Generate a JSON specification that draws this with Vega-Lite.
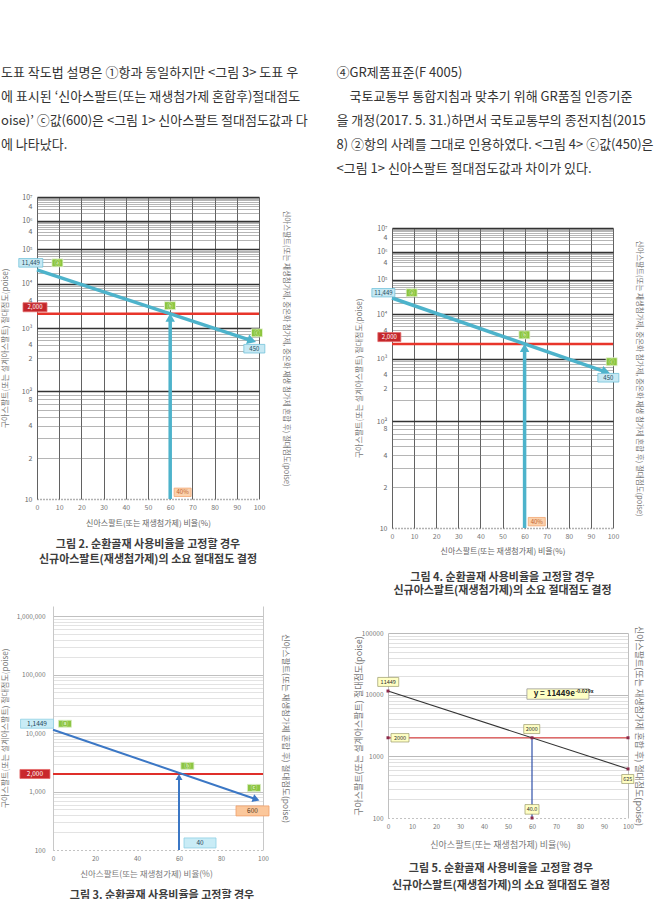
{
  "$schema": "https://vega.github.io/schema/vega-lite/v6.json",
  "padding": {"left": 0, "top": 66, "right": 0, "bottom": 0},
  "background": "white",
  "config": {
    "font": "Noto Sans CJK KR",
    "view": {"stroke": null},
    "axis": {"labelFont": "Noto Sans CJK KR", "titleFont": "Noto Sans CJK KR", "titleFontWeight": "normal"},
    "title": {"font": "Noto Sans CJK KR"},
    "text": {"font": "Noto Sans CJK KR"},
    "point": {"opacity": 1}
  },
  "datasets": {
    "lab2": [
      {"x": -2.8, "lv": 4.58, "t": "11,449", "role": "old"},
      {"x": 9.2, "lv": 4.58, "t": "ⓐ", "role": "step"},
      {"x": 59.9, "lv": 3.475, "t": "ⓑ", "role": "step"},
      {"x": 99.1, "lv": 2.917, "t": "ⓒ", "role": "step"},
      {"x": -0.9, "lv": 3.44, "t": "2,000", "role": "target"},
      {"x": 97.9, "lv": 2.634, "t": "450", "role": "new"},
      {"x": 65.6, "lv": 1.044, "t": "40%", "role": "ratio"}
    ],
    "lab4": [
      {"x": -3.9, "lv": 4.6, "t": "11,449", "role": "old"},
      {"x": 8.9, "lv": 4.6, "t": "ⓐ", "role": "step"},
      {"x": 59.9, "lv": 3.5, "t": "ⓑ", "role": "step"},
      {"x": 99.4, "lv": 2.94, "t": "ⓒ", "role": "step"},
      {"x": -1.2, "lv": 3.45, "t": "2,000", "role": "target"},
      {"x": 97.9, "lv": 2.65, "t": "450", "role": "new"},
      {"x": 65.5, "lv": 1.042, "t": "40%", "role": "ratio"}
    ],
    "lab3": [
      {"x": -7.6, "v": 14500, "t": "1,1449", "role": "old"},
      {"x": 5.7, "v": 14500, "t": "ⓐ", "role": "step"},
      {"x": 64, "v": 2760, "t": "ⓑ", "role": "step"},
      {"x": 95.7, "v": 1157, "t": "ⓒ", "role": "step"},
      {"x": -8.6, "v": 2000, "t": "2,000", "role": "target"},
      {"x": 95, "v": 467, "t": "600", "role": "new"},
      {"x": 70, "v": 132, "t": "40", "role": "ratio"}
    ],
    "lab5": [
      {"x": 0.1, "v": 16100, "t": "11449", "role": "old"},
      {"x": 5, "v": 2000, "t": "2000", "role": "target"},
      {"x": 59.9, "v": 2770, "t": "2000", "role": "cross"},
      {"x": 99.9, "v": 429, "t": "625", "role": "new"},
      {"x": 60, "v": 138, "t": "40.0", "role": "ratio"}
    ]
  },
  "spacing": 28,
  "resolve": {"scale": {"fill": "independent", "stroke": "independent", "shape": "independent", "color": "independent"}},
  "hconcat": [
    {
      "title": {
        "text": ["도표 작도법 설명은 ①항과 동일하지만 <그림 3> 도표 우", "에 표시된 ‘신아스팔트(또는 재생첨가제 혼합후)절대점도", "oise)’ ⓒ값(600)은 <그림 1> 신아스팔트 절대점도값과 다", "에 나타났다."],
        "anchor": "start", "frame": "bounds", "fontSize": 13, "fontWeight": "normal", "color": "#333333", "lineHeight": 24, "offset": 41
      },
      "spacing": 41,
      "resolve": {"scale": {"fill": "independent", "stroke": "independent", "shape": "independent", "color": "independent"}},
      "vconcat": [
        {
          "width": 222, "height": 302,
          "title": {"text": ["그림 2. 순환골재 사용비율을 고정할 경우", "신규아스팔트(재생첨가제)의 소요 절대점도 결정"], "orient": "bottom", "anchor": "middle", "fontSize": 11, "fontWeight": "bold", "color": "#3c3c3c", "lineHeight": 15, "offset": 12},
          "resolve": {"axis": {"y": "independent"}},
          "encoding": {
            "x": {"field": "x", "type": "quantitative", "scale": {"domain": [0, 100], "nice": false},
              "axis": {"values": [0, 10, 20, 30, 40, 50, 60, 70, 80, 90, 100], "grid": true, "gridColor": "#3a3a3a", "gridWidth": 0.8, "ticks": false, "domain": true, "domainColor": "#666666", "domainDash": [1, 2], "domainWidth": 1.5, "labelFontSize": 7, "labelColor": "#777777", "labelPadding": 4, "labelFlush": false, "labelOverlap": false, "title": "신아스팔트(또는 재생첨가제) 비율(%)", "titleFontSize": 8, "titleColor": "#666666", "titlePadding": 9}}
          },
          "layer": [
            {
              "data": {"values": [{"x": 0, "lv": 3.30103}, {"x": 100, "lv": 3.30103}]},
              "mark": {"type": "line", "color": "#e8352b", "strokeWidth": 2.5},
              "encoding": {
                "y": {"field": "lv", "type": "quantitative", "scale": {"type": "log", "domain": [1, 7], "nice": false},
                  "axis": {
                    "values": [1, 1.30103, 1.47712, 1.60206, 1.69897, 1.77815, 1.8451, 1.90309, 1.95424, 2, 2.30103, 2.47712, 2.60206, 2.69897, 2.77815, 2.8451, 2.90309, 2.95424, 3, 3.30103, 3.47712, 3.60206, 3.69897, 3.77815, 3.8451, 3.90309, 3.95424, 4, 4.30103, 4.47712, 4.60206, 4.69897, 4.77815, 4.8451, 4.90309, 4.95424, 5, 5.30103, 5.47712, 5.60206, 5.69897, 5.77815, 5.8451, 5.90309, 5.95424, 6, 6.30103, 6.47712, 6.60206, 6.69897, 6.77815, 6.8451, 6.90309, 6.95424, 7],
                    "labelExpr": "datum.value == 7 ? '10⁷' : datum.value == 6 ? '10⁶' : datum.value == 5 ? '10⁵' : datum.value == 4 ? '10⁴' : datum.value == 3 ? '10³' : datum.value == 2 ? '10²' : datum.value == 1 ? '10' : (datum.value == 6.60206 || datum.value == 5.60206 || datum.value == 4.60206 || datum.value == 3.60206 || datum.value == 2.69897 || datum.value == 1.60206) ? '4' : (datum.value == 2.47712 || datum.value == 1.30103) ? '2' : datum.value == 1.90309 ? '8' : ''",
                    "grid": true,
                    "gridColor": {"condition": {"test": "datum.value % 1 == 0", "value": "#333333"}, "value": "#777777"},
                    "gridWidth": {"condition": {"test": "datum.value % 1 == 0", "value": 1.6}, "value": 0.55},
                    "gridOpacity": {"condition": {"test": "datum.value == 1", "value": 0}, "value": 1},
                    "ticks": false, "domain": false, "labelFontSize": 7, "labelColor": "#666666", "labelPadding": 5, "labelOverlap": false,
                    "title": "구아스팔트(또는 설계아스팔트) 절대점도(poise)", "titleFontSize": 8, "titleColor": "#777777", "titleX": -28}}
              }
            },
            {
              "data": {"values": [{"x": 0, "lv": 4.375}, {"x": 96, "lv": 2.785}]},
              "mark": {"type": "line", "color": "#4db3cb", "strokeWidth": 3.5},
              "encoding": {
                "y": {"field": "lv", "type": "quantitative", "axis": {"orient": "right", "title": "신아스팔트(또는 재생첨가제, 중온화 첨가제, 중온화 재생 첨가제 혼합 후) 절대점도(poise)", "labels": false, "ticks": false, "domain": false, "grid": false, "titleFontSize": 7.5, "titleColor": "#777777", "titleX": 22}}
              }
            },
            {
              "data": {"values": [{"x": 60, "lv": 1, "lv2": 3.21}]},
              "mark": {"type": "rule", "color": "#4db3cb", "strokeWidth": 3.5},
              "encoding": {
                "y": {"field": "lv", "type": "quantitative", "axis": null},
                "y2": {"field": "lv2"}
              }
            },
            {
              "data": {"values": [{"x": 60, "lv": 3.207}]},
              "mark": {"type": "point", "shape": "M0,-1L1,0.75L-1,0.75Z", "size": 90, "filled": true, "opacity": 1, "color": "#4db3cb"},
              "encoding": {"y": {"field": "lv", "type": "quantitative", "axis": null}}
            },
            {
              "data": {"values": [{"x": 96.5, "lv": 2.778}]},
              "mark": {"type": "point", "shape": "M0,-1L1,0.75L-1,0.75Z", "size": 100, "filled": true, "opacity": 1, "color": "#4db3cb", "angle": 108},
              "encoding": {"y": {"field": "lv", "type": "quantitative", "axis": null}}
            },
            {
              "data": {"name": "lab2"},
              "mark": {"type": "point", "filled": true, "size": 400, "opacity": 1, "strokeWidth": 0.8},
              "encoding": {
                "y": {"field": "lv", "type": "quantitative", "axis": null},
                "shape": {"field": "role", "type": "nominal", "legend": null, "scale": {"domain": ["old", "step", "target", "new", "ratio"], "range": ["M-1.2,-0.43H1.2V0.43H-1.2Z", "M-0.55,-0.4H0.55V0.4H-0.55Z", "M-1.2,-0.45H1.2V0.45H-1.2Z", "M-1.05,-0.43H1.05V0.43H-1.05Z", "M-0.85,-0.42H0.85V0.42H-0.85Z"]}},
                "fill": {"field": "role", "type": "nominal", "legend": null, "scale": {"domain": ["old", "step", "target", "new", "ratio"], "range": ["#c6e8f3", "#8cc63f", "#c4262b", "#c6e8f3", "#fbd2ad"]}},
                "stroke": {"field": "role", "type": "nominal", "legend": null, "scale": {"domain": ["old", "step", "target", "new", "ratio"], "range": ["#74c3da", "#e8f4d8", "#e26a6a", "#74c3da", "#f3a772"]}}
              }
            },
            {
              "data": {"name": "lab2"},
              "mark": {"type": "text", "fontSize": 6, "baseline": "middle"},
              "encoding": {
                "y": {"field": "lv", "type": "quantitative", "axis": null},
                "text": {"field": "t"},
                "color": {"field": "role", "type": "nominal", "legend": null, "scale": {"domain": ["old", "step", "target", "new", "ratio"], "range": ["#1f4a5c", "#eef8e0", "#ffffff", "#1f4a5c", "#c0602c"]}}
              }
            }
          ]
        },
        {
          "width": 226, "height": 244,
          "title": {"text": "그림 3. 순환골재 사용비율을 고정할 경우", "orient": "bottom", "anchor": "middle", "fontSize": 11, "fontWeight": "bold", "color": "#3c3c3c", "offset": 12, "dx": 12},
          "resolve": {"axis": {"y": "independent"}},
          "encoding": {
            "x": {"field": "x", "type": "quantitative", "scale": {"domain": [0, 100], "range": [16, 226], "nice": false},
              "axis": {"values": [0, 20, 40, 60, 80, 100], "grid": false, "ticks": false, "domain": true, "domainColor": "#888888", "domainDash": [1, 3], "domainWidth": 1.2, "labelFontSize": 6.5, "labelColor": "#777777", "labelPadding": 5, "labelFlush": false, "labelOverlap": false, "title": "신아스팔트(또는 재생첨가제) 비율(%)", "titleFontSize": 8.5, "titleColor": "#777777", "titlePadding": 7.5, "titleX": 109}}
          },
          "layer": [
            {
              "data": {"values": [{"x": 0, "v": 2000}, {"x": 100, "v": 2000}]},
              "mark": {"type": "line", "color": "#df2f2a", "strokeWidth": 2},
              "encoding": {
                "y": {"field": "v", "type": "quantitative", "scale": {"type": "log", "domain": [100, 1500000], "nice": false},
                  "axis": {
                    "values": [100, 200, 300, 400, 500, 600, 700, 800, 900, 1000, 2000, 3000, 4000, 5000, 6000, 7000, 8000, 9000, 10000, 20000, 30000, 40000, 50000, 60000, 70000, 80000, 90000, 100000, 200000, 300000, 400000, 500000, 600000, 700000, 800000, 900000, 1000000],
                    "labelExpr": "indexof([100,1000,10000,100000,1000000], datum.value) >= 0 ? format(datum.value, ',') : ''",
                    "grid": true,
                    "gridColor": {"condition": {"test": "indexof([100,1000,10000,100000,1000000], datum.value) >= 0", "value": "#b0b0b0"}, "value": "#dcdcdc"},
                    "gridWidth": 0.8,
                    "gridOpacity": {"condition": {"test": "datum.value == 100", "value": 0}, "value": 1},
                    "offset": -16,
                    "ticks": false, "domain": true, "domainColor": "#c8c8c8", "labelFontSize": 6.5, "labelColor": "#777777", "labelPadding": 8, "labelOverlap": false,
                    "title": "구아스팔트(또는 설계아스팔트) 절대점도(poise)", "titleFontSize": 8, "titleColor": "#777777", "titleX": -44}}
              }
            },
            {
              "data": {"values": [{"x": 0, "v": 11449}, {"x": 96, "v": 754}]},
              "mark": {"type": "line", "color": "#3b77c5", "strokeWidth": 2},
              "encoding": {
                "y": {"field": "v", "type": "quantitative", "axis": {"orient": "right", "title": "신아스팔트(또는 재생첨가제 혼합 후) 절대점도(poise)", "labels": false, "ticks": false, "domain": true, "domainColor": "#c8c8c8", "grid": false, "titleFontSize": 8.5, "titleColor": "#777777", "titleX": 17.75}}
              }
            },
            {
              "data": {"values": [{"x": 60, "v": 100, "v2": 1760}]},
              "mark": {"type": "rule", "color": "#3b77c5", "strokeWidth": 2},
              "encoding": {
                "y": {"field": "v", "type": "quantitative", "axis": null},
                "y2": {"field": "v2"}
              }
            },
            {
              "data": {"values": [{"x": 60, "v": 1742}]},
              "mark": {"type": "point", "shape": "M0,-1L1,0.75L-1,0.75Z", "size": 49, "filled": true, "opacity": 1, "color": "#3b77c5"},
              "encoding": {"y": {"field": "v", "type": "quantitative", "axis": null}}
            },
            {
              "data": {"values": [{"x": 96.5, "v": 743}]},
              "mark": {"type": "point", "shape": "M0,-1L1,0.75L-1,0.75Z", "size": 64, "filled": true, "opacity": 1, "color": "#3b77c5", "angle": 109},
              "encoding": {"y": {"field": "v", "type": "quantitative", "axis": null}}
            },
            {
              "data": {"name": "lab3"},
              "mark": {"type": "point", "filled": true, "size": 400, "opacity": 1, "strokeWidth": 0.8},
              "encoding": {
                "y": {"field": "v", "type": "quantitative", "axis": null},
                "shape": {"field": "role", "type": "nominal", "legend": null, "scale": {"domain": ["old", "step", "target", "new", "ratio"], "range": ["M-1.65,-0.45H1.65V0.45H-1.65Z", "M-0.65,-0.35H0.65V0.35H-0.65Z", "M-1.5,-0.45H1.5V0.45H-1.5Z", "M-1.65,-0.5H1.65V0.5H-1.65Z", "M-1.6,-0.5H1.6V0.5H-1.6Z"]}},
                "fill": {"field": "role", "type": "nominal", "legend": null, "scale": {"domain": ["old", "step", "target", "new", "ratio"], "range": ["#c9ecf6", "#8cc542", "#c9282c", "#fbc79b", "#c9ecf6"]}},
                "stroke": {"field": "role", "type": "nominal", "legend": null, "scale": {"domain": ["old", "step", "target", "new", "ratio"], "range": ["#8fd0e4", "#d9eec4", "#e46a6a", "#f0a06a", "#8fd0e4"]}}
              }
            },
            {
              "data": {"name": "lab3"},
              "mark": {"type": "text", "fontSize": 6.5, "baseline": "middle"},
              "encoding": {
                "y": {"field": "v", "type": "quantitative", "axis": null},
                "text": {"field": "t"},
                "color": {"field": "role", "type": "nominal", "legend": null, "scale": {"domain": ["old", "step", "target", "new", "ratio"], "range": ["#24465a", "#f2f9e8", "#ffffff", "#5a3a20", "#24465a"]}}
              }
            }
          ]
        }
      ]
    },
    {
      "title": {
        "text": ["④GR제품표준(F 4005)", "​　국토교통부 통합지침과 맞추기 위해 GR품질 인증기준", "을 개정(2017. 5. 31.)하면서 국토교통부의 종전지침(2015", "8) ②항의 사례를 그대로 인용하였다. <그림 4> ⓒ값(450)은", "<그림 1> 신아스팔트 절대점도값과 차이가 있다."],
        "anchor": "start", "frame": "bounds", "fontSize": 13, "fontWeight": "normal", "color": "#333333", "lineHeight": 24, "offset": 21.5, "dx": -18
      },
      "spacing": 0,
      "resolve": {"scale": {"fill": "independent", "stroke": "independent", "shape": "independent", "color": "independent"}},
      "vconcat": [
        {
          "width": 10, "height": 27,
          "data": {"values": [{"a": 1}]},
          "mark": {"type": "point", "opacity": 0},
          "encoding": {}
        },
        {
          "spacing": 29,
          "resolve": {"scale": {"fill": "independent", "stroke": "independent", "shape": "independent", "color": "independent"}},
          "vconcat": [
            {
              "width": 225, "height": 300,
              "title": {"text": ["그림 4. 순환골재 사용비율을 고정할 경우", "신규아스팔트(재생첨가제)의 소요 절대점도 결정"], "orient": "bottom", "anchor": "middle", "fontSize": 11, "fontWeight": "bold", "color": "#3c3c3c", "lineHeight": 13, "offset": 17, "dx": 2},
              "resolve": {"axis": {"y": "independent"}},
              "encoding": {
                "x": {"field": "x", "type": "quantitative", "scale": {"domain": [0, 100], "range": [4, 225], "nice": false},
                  "axis": {"values": [0, 10, 20, 30, 40, 50, 60, 70, 80, 90, 100], "grid": true, "gridColor": "#3a3a3a", "gridWidth": 0.8, "ticks": false, "domain": true, "domainColor": "#666666", "domainDash": [1, 2], "domainWidth": 1.5, "labelFontSize": 7, "labelColor": "#777777", "labelPadding": 4, "labelFlush": false, "labelOverlap": false, "title": "신아스팔트(또는 재생첨가제) 비율(%)", "titleFontSize": 8, "titleColor": "#666666", "titlePadding": 8, "titleX": 114.5}}
              },
              "layer": [
                {
                  "data": {"values": [{"x": 0, "lv": 3.30103}, {"x": 100, "lv": 3.30103}]},
                  "mark": {"type": "line", "color": "#e8352b", "strokeWidth": 2.5},
                  "encoding": {
                    "y": {"field": "lv", "type": "quantitative", "scale": {"type": "log", "domain": [1, 7], "nice": false},
                      "axis": {
                        "values": [1, 1.30103, 1.47712, 1.60206, 1.69897, 1.77815, 1.8451, 1.90309, 1.95424, 2, 2.30103, 2.47712, 2.60206, 2.69897, 2.77815, 2.8451, 2.90309, 2.95424, 3, 3.30103, 3.47712, 3.60206, 3.69897, 3.77815, 3.8451, 3.90309, 3.95424, 4, 4.30103, 4.47712, 4.60206, 4.69897, 4.77815, 4.8451, 4.90309, 4.95424, 5, 5.30103, 5.47712, 5.60206, 5.69897, 5.77815, 5.8451, 5.90309, 5.95424, 6, 6.30103, 6.47712, 6.60206, 6.69897, 6.77815, 6.8451, 6.90309, 6.95424, 7],
                        "labelExpr": "datum.value == 7 ? '10⁷' : datum.value == 6 ? '10⁶' : datum.value == 5 ? '10⁵' : datum.value == 4 ? '10⁴' : datum.value == 3 ? '10³' : datum.value == 2 ? '10²' : datum.value == 1 ? '10' : (datum.value == 6.60206 || datum.value == 5.60206 || datum.value == 4.60206 || datum.value == 3.60206 || datum.value == 2.69897 || datum.value == 1.60206) ? '4' : (datum.value == 2.47712 || datum.value == 1.30103) ? '2' : datum.value == 1.90309 ? '8' : ''",
                        "grid": true,
                        "gridColor": {"condition": {"test": "datum.value % 1 == 0", "value": "#333333"}, "value": "#777777"},
                        "gridWidth": {"condition": {"test": "datum.value % 1 == 0", "value": 1.6}, "value": 0.55},
                        "gridOpacity": {"condition": {"test": "datum.value == 1", "value": 0}, "value": 1},
                        "offset": -4,
                        "ticks": false, "domain": false, "labelFontSize": 7, "labelColor": "#666666", "labelPadding": 5, "labelOverlap": false,
                        "title": "구아스팔트(또는 설계아스팔트) 절대점도(poise)", "titleFontSize": 8, "titleColor": "#777777", "titleX": -29}}
                  }
                },
                {
                  "data": {"values": [{"x": 0, "lv": 4.446}, {"x": 96, "lv": 2.761}]},
                  "mark": {"type": "line", "color": "#4db3cb", "strokeWidth": 3.5},
                  "encoding": {
                    "y": {"field": "lv", "type": "quantitative", "axis": {"orient": "right", "title": "신아스팔트(또는 재생첨가제, 중온화 첨가제, 중온화 재생 첨가제 혼합 후) 절대점도(poise)", "labels": false, "ticks": false, "domain": false, "grid": false, "titleFontSize": 7.5, "titleColor": "#777777", "titleX": 21.25}}
                  }
                },
                {
                  "data": {"values": [{"x": 60, "lv": 1, "lv2": 3.21}]},
                  "mark": {"type": "rule", "color": "#4db3cb", "strokeWidth": 3.5},
                  "encoding": {
                    "y": {"field": "lv", "type": "quantitative", "axis": null},
                    "y2": {"field": "lv2"}
                  }
                },
                {
                  "data": {"values": [{"x": 60, "lv": 3.206}]},
                  "mark": {"type": "point", "shape": "M0,-1L1,0.75L-1,0.75Z", "size": 90, "filled": true, "opacity": 1, "color": "#4db3cb"},
                  "encoding": {"y": {"field": "lv", "type": "quantitative", "axis": null}}
                },
                {
                  "data": {"values": [{"x": 96.5, "lv": 2.754}]},
                  "mark": {"type": "point", "shape": "M0,-1L1,0.75L-1,0.75Z", "size": 100, "filled": true, "opacity": 1, "color": "#4db3cb", "angle": 108},
                  "encoding": {"y": {"field": "lv", "type": "quantitative", "axis": null}}
                },
                {
                  "data": {"name": "lab4"},
                  "mark": {"type": "point", "filled": true, "size": 400, "opacity": 1, "strokeWidth": 0.8},
                  "encoding": {
                    "y": {"field": "lv", "type": "quantitative", "axis": null},
                    "shape": {"field": "role", "type": "nominal", "legend": null, "scale": {"domain": ["old", "step", "target", "new", "ratio"], "range": ["M-1.15,-0.42H1.15V0.42H-1.15Z", "M-0.55,-0.4H0.55V0.4H-0.55Z", "M-1.15,-0.45H1.15V0.45H-1.15Z", "M-1.05,-0.43H1.05V0.43H-1.05Z", "M-0.85,-0.42H0.85V0.42H-0.85Z"]}},
                    "fill": {"field": "role", "type": "nominal", "legend": null, "scale": {"domain": ["old", "step", "target", "new", "ratio"], "range": ["#c6e8f3", "#8cc63f", "#c4262b", "#c6e8f3", "#fbd2ad"]}},
                    "stroke": {"field": "role", "type": "nominal", "legend": null, "scale": {"domain": ["old", "step", "target", "new", "ratio"], "range": ["#74c3da", "#e8f4d8", "#e26a6a", "#74c3da", "#f3a772"]}}
                  }
                },
                {
                  "data": {"name": "lab4"},
                  "mark": {"type": "text", "fontSize": 6, "baseline": "middle"},
                  "encoding": {
                    "y": {"field": "lv", "type": "quantitative", "axis": null},
                    "text": {"field": "t"},
                    "color": {"field": "role", "type": "nominal", "legend": null, "scale": {"domain": ["old", "step", "target", "new", "ratio"], "range": ["#1f4a5c", "#eef8e0", "#ffffff", "#1f4a5c", "#c0602c"]}}
                  }
                }
              ]
            },
            {
              "width": 240, "height": 185,
              "title": {"text": ["그림 5. 순환골재 사용비율을 고정할 경우", "신규아스팔트(재생첨가제)의 소요 절대점도 결정"], "orient": "bottom", "anchor": "middle", "fontSize": 11, "fontWeight": "bold", "color": "#3c3c3c", "lineHeight": 17, "offset": 13, "dx": -7},
              "resolve": {"axis": {"y": "independent"}},
              "encoding": {
                "x": {"field": "x", "type": "quantitative", "scale": {"domain": [0, 100], "nice": false},
                  "axis": {"values": [0, 10, 20, 30, 40, 50, 60, 70, 80, 90, 100], "grid": false, "ticks": false, "domain": true, "domainColor": "#888888", "domainDash": [1, 3], "domainWidth": 1.2, "labelFontSize": 6.5, "labelColor": "#777777", "labelPadding": 5, "labelFlush": false, "labelOverlap": false, "title": "신아스팔트(또는 재생첨가제) 비율(%)", "titleFontSize": 9, "titleColor": "#777777", "titlePadding": 11, "titleX": 112}}
              },
              "layer": [
                {
                  "data": {"values": [{"x": 0, "v": 2000}, {"x": 100, "v": 2000}]},
                  "mark": {"type": "line", "color": "#e06a6a", "strokeWidth": 1.3},
                  "encoding": {
                    "y": {"field": "v", "type": "quantitative", "scale": {"type": "log", "domain": [100, 100000], "nice": false},
                      "axis": {
                        "values": [100, 200, 300, 400, 500, 600, 700, 800, 900, 1000, 2000, 3000, 4000, 5000, 6000, 7000, 8000, 9000, 10000, 20000, 30000, 40000, 50000, 60000, 70000, 80000, 90000, 100000],
                        "labelExpr": "indexof([100,1000,10000,100000], datum.value) >= 0 ? format(datum.value, 'd') : ''",
                        "grid": true,
                        "gridColor": {"condition": {"test": "indexof([100,1000,10000,100000], datum.value) >= 0", "value": "#a8a8a8"}, "value": "#d8d8d8"},
                        "gridWidth": 0.8,
                        "gridOpacity": {"condition": {"test": "datum.value == 100", "value": 0}, "value": 1},
                        "ticks": false, "domain": true, "domainColor": "#c0c0c0", "labelFontSize": 6.5, "labelColor": "#777777", "labelPadding": 5, "labelOverlap": false,
                        "title": "구아스팔트(또는 설계아스팔트) 절대점도(poise)", "titleFontSize": 9, "titleColor": "#777777", "titleX": -24.5}}
                  }
                },
                {
                  "data": {"values": [{"x": 0, "v": 11449}, {"x": 100, "v": 625}]},
                  "mark": {"type": "line", "color": "#333333", "strokeWidth": 1.1},
                  "encoding": {
                    "y": {"field": "v", "type": "quantitative", "axis": {"orient": "right", "title": "신아스팔트(또는 재생첨가제 혼합 후) 절대점도(poise)", "labels": false, "ticks": false, "domain": true, "domainColor": "#c0c0c0", "grid": false, "titleFontSize": 9, "titleColor": "#777777", "titleX": 5.5}}
                  }
                },
                {
                  "data": {"values": [{"x": 60, "v": 100, "v2": 2000}]},
                  "mark": {"type": "rule", "color": "#3050a8", "strokeWidth": 1.2},
                  "encoding": {
                    "y": {"field": "v", "type": "quantitative", "axis": null},
                    "y2": {"field": "v2"}
                  }
                },
                {
                  "data": {"values": [{"x": 0, "v": 2000}, {"x": 100, "v": 2000}, {"x": 0, "v": 11449}, {"x": 100, "v": 625}, {"x": 60, "v": 2000}, {"x": 60, "v": 100}]},
                  "mark": {"type": "point", "shape": "square", "size": 9, "filled": true, "opacity": 1, "color": "#8b2a4a"},
                  "encoding": {"y": {"field": "v", "type": "quantitative", "axis": null}}
                },
                {
                  "data": {"name": "lab5"},
                  "mark": {"type": "point", "filled": true, "size": 400, "opacity": 1, "strokeWidth": 0.7, "fill": "#ffffc4", "stroke": "#9a9a6a"},
                  "encoding": {
                    "y": {"field": "v", "type": "quantitative", "axis": null},
                    "shape": {"field": "role", "type": "nominal", "legend": null, "scale": {"domain": ["old", "target", "cross", "new", "ratio"], "range": ["M-1.05,-0.45H1.05V0.45H-1.05Z", "M-0.9,-0.42H0.9V0.42H-0.9Z", "M-0.8,-0.45H0.8V0.45H-0.8Z", "M-0.6,-0.45H0.6V0.45H-0.6Z", "M-0.7,-0.48H0.7V0.48H-0.7Z"]}}
                  }
                },
                {
                  "data": {"name": "lab5"},
                  "mark": {"type": "text", "fontSize": 5.5, "baseline": "middle", "color": "#333333"},
                  "encoding": {
                    "y": {"field": "v", "type": "quantitative", "axis": null},
                    "text": {"field": "t"}
                  }
                },
                {
                  "data": {"values": [{"x": 70.8, "v": 10230, "t": "y = 11449e", "sup": "-0.029x"}]},
                  "encoding": {"y": {"field": "v", "type": "quantitative", "axis": null}},
                  "layer": [
                    {"mark": {"type": "point", "shape": "M-3.1,-0.52H3.1V0.52H-3.1Z", "size": 400, "filled": true, "opacity": 1, "fill": "#ffffc4", "stroke": "#999999", "strokeWidth": 0.8}},
                    {"mark": {"type": "text", "align": "right", "baseline": "middle", "dx": 17, "fontSize": 8, "fontWeight": "bold", "color": "#222222"}, "encoding": {"text": {"field": "t"}}},
                    {"mark": {"type": "text", "align": "left", "baseline": "middle", "dx": 17.5, "dy": -3, "fontSize": 5, "fontWeight": "bold", "color": "#222222"}, "encoding": {"text": {"field": "sup"}}}
                  ]
                }
              ]
            }
          ]
        }
      ]
    }
  ]
}
